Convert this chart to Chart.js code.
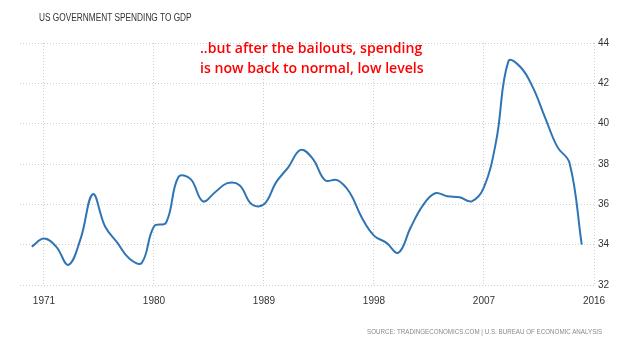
<!DOCTYPE html>
<html lang="en">

<head>
    <meta charset="UTF-8">
    <title>US Government Spending to GDP</title>
    <script src="https://cdn.jsdelivr.net/npm/chart.js"></script>
    <style>
        body {
            margin: 0;
            background: #fff;
        }

        #wrap {
            position: relative;
            width: 640px;
            height: 344px;
        }

        .txt {
            position: absolute;
            white-space: nowrap;
            transform-origin: 0 0;
        }

        #title {
            left: 39px;
            top: 12px;
            font: 10px "Liberation Sans", Arial, sans-serif;
            color: #333;
            transform: scaleX(0.83);
        }

        #note {
            left: 200px;
            top: 37px;
            font: 600 15px "Open Sans", sans-serif;
            color: #ff0000;
            line-height: 20px;
            transform: scaleX(0.94);
        }

        #source {
            left: 367px;
            top: 327px;
            font: 7.5px "Liberation Sans", Arial, sans-serif;
            color: #8a8a8a;
            transform: scaleX(0.83);
        }
    </style>
</head>

<body>
    <div id="wrap">
        <canvas id="mycanvas" width="640" height="344"></canvas>
        <div class="txt" id="title">US GOVERNMENT SPENDING TO GDP</div>
        <div class="txt" id="note">..but after the bailouts, spending<br>is now back to normal, low levels</div>
        <div class="txt" id="source">SOURCE: TRADINGECONOMICS.COM | U.S. BUREAU OF ECONOMIC ANALYSIS</div>
    </div>

    <script type="text/javascript">
        // yearly values
        const years = [1970, 1971, 1972, 1973, 1974, 1975, 1976, 1977, 1978, 1979,
            1980, 1981, 1982, 1983, 1984, 1985, 1986, 1987, 1988, 1989,
            1990, 1991, 1992, 1993, 1994, 1995, 1996, 1997, 1998, 1999,
            2000, 2001, 2002, 2003, 2004, 2005, 2006, 2007, 2008, 2009,
            2010, 2011, 2012, 2013, 2014, 2015];
        const spending = [33.9, 34.3, 33.9, 33.0, 34.3, 36.5, 34.9, 34.1, 33.3, 33.1,
            34.9, 35.1, 37.35, 37.25, 36.15, 36.6, 37.05, 36.95, 36.0, 36.0,
            37.1, 37.85, 38.7, 38.25, 37.2, 37.2, 36.6, 35.35, 34.45, 34.1,
            33.6, 34.85, 35.95, 36.55, 36.4, 36.35, 36.15, 36.85, 39.15, 43.1,
            42.8, 41.8, 40.3, 38.85, 38.05, 34.0];
        const xTicks = [1971, 1980, 1989, 1998, 2007, 2016];
        const yTicks = [32, 34, 36, 38, 40, 42, 44];

        const points = years.map((y, i) => ({ x: y, y: spending[i] }));
        const tickFont = { family: "Liberation Sans, Arial, sans-serif", size: 10 };

        new Chart(document.getElementById('mycanvas').getContext('2d'), {
            type: 'line',
            data: {
                datasets: [{
                    data: points,
                    borderColor: '#2f75b5',
                    borderWidth: 2,
                    pointRadius: 0,
                    tension: 0.4,
                    fill: false
                }]
            },
            options: {
                responsive: false,
                animation: false,
                layout: { padding: { left: 20, top: 43, right: 0, bottom: 0 } },
                plugins: { legend: { display: false }, tooltip: { enabled: false } },
                scales: {
                    x: {
                        type: 'linear',
                        min: 1969.04,
                        max: 2016,
                        afterBuildTicks: s => { s.ticks = xTicks.map(v => ({ value: v })); },
                        afterFit: s => { s.height = 59; },
                        grid: { color: '#cfcfcf', drawTicks: false },
                        border: { display: false, dash: [1, 2] },
                        ticks: { color: '#333', font: tickFont, padding: 10, maxRotation: 0, callback: v => String(v) }
                    },
                    y: {
                        position: 'right',
                        min: 32,
                        max: 44,
                        afterBuildTicks: s => { s.ticks = yTicks.map(v => ({ value: v })); },
                        afterFit: s => { s.width = 46; },
                        grid: { color: '#cfcfcf', drawTicks: false },
                        border: { display: false, dash: [1, 2] },
                        ticks: { color: '#333', font: tickFont, padding: 4 }
                    }
                }
            }
        });
    </script>

</body>

</html>
